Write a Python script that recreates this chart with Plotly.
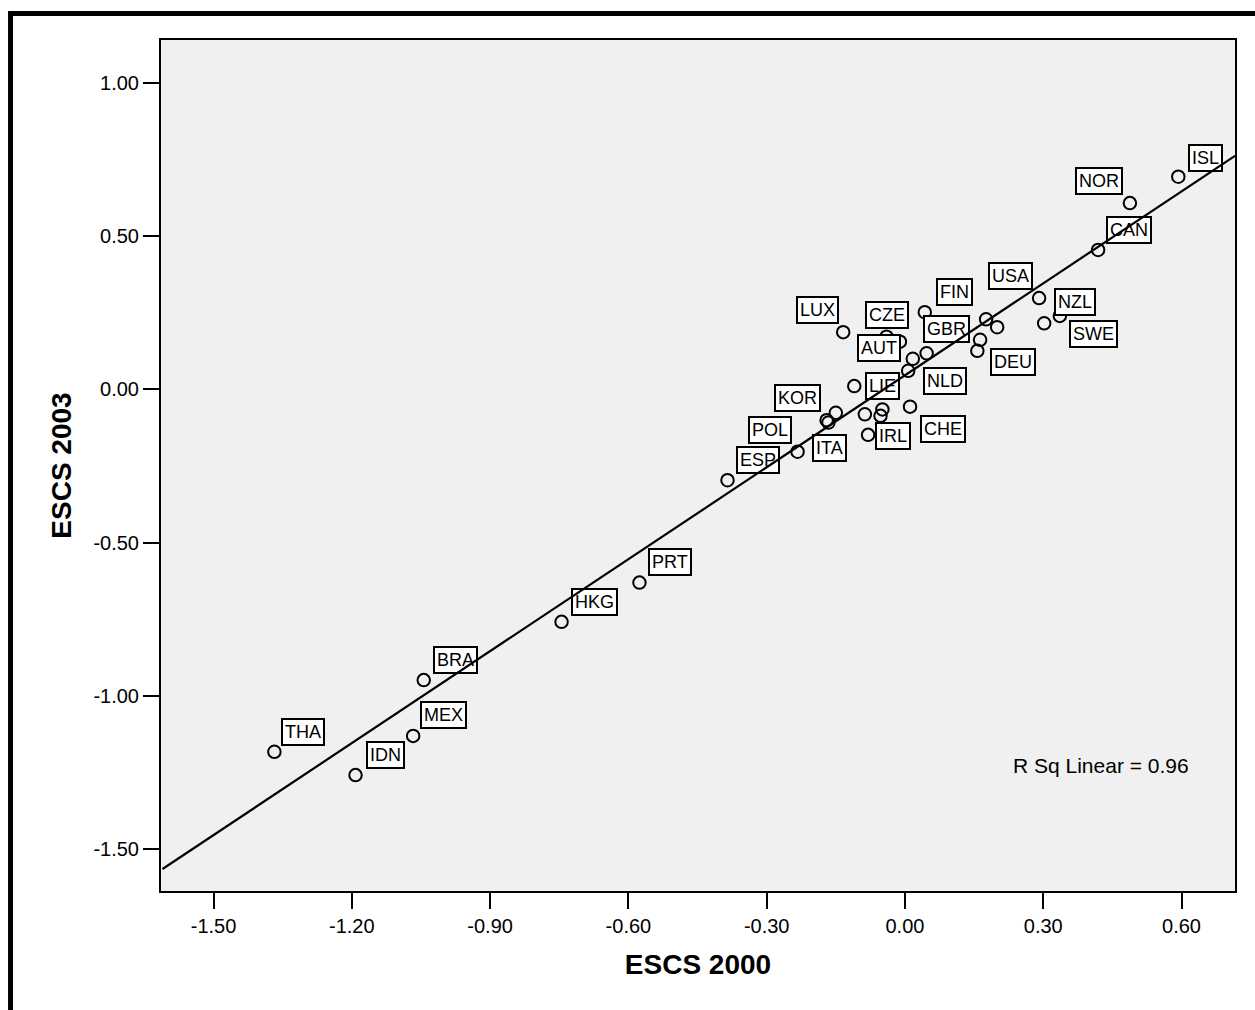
import numpy as np
import plotly.graph_objects as go

# Country codes (blank where the point carries no label)
countries = ["THA", "IDN", "MEX", "BRA", "HKG", "PRT", "ESP", "ITA", "KOR", "POL",
             "", "LUX", "LIE", "", "IRL", "", "", "CZE", "AUT", "CHE",
             "", "NLD", "GBR", "FIN", "", "", "DEU", "", "USA", "NZL",
             "SWE", "CAN", "NOR", "ISL"]

# Mean ESCS per country in PISA 2000 and PISA 2003
escs_2000 = [-1.368, -1.192, -1.067, -1.044, -0.745, -0.576, -0.385, -0.233, -0.170, -0.166,
             -0.150, -0.134, -0.110, -0.087, -0.080, -0.049, -0.053, -0.040, -0.011, 0.011,
             0.007, 0.017, 0.047, 0.043, 0.176, 0.200, 0.163, 0.157, 0.291, 0.302,
             0.336, 0.419, 0.488, 0.593]
escs_2003 = [-1.182, -1.258, -1.130, -0.948, -0.758, -0.630, -0.296, -0.203, -0.100, -0.108,
             -0.076, 0.187, 0.011, -0.081, -0.148, -0.065, -0.086, 0.172, 0.156, -0.056,
             0.061, 0.100, 0.118, 0.252, 0.229, 0.203, 0.162, 0.126, 0.298, 0.216,
             0.240, 0.455, 0.608, 0.694]

r_sq_linear = 0.96

x_ticks = [-1.5, -1.2, -0.9, -0.6, -0.3, 0.0, 0.3, 0.6]
x_tick_labels = ["-1.50", "-1.20", "-0.90", "-0.60", "-0.30", "0.00", "0.30", "0.60"]
y_ticks = [-1.5, -1.0, -0.5, 0.0, 0.5, 1.0]
y_tick_labels = ["-1.50", "-1.00", "-0.50", "0.00", "0.50", "1.00"]

X_RANGE = [-1.614, 0.716]
Y_RANGE = [-1.636, 1.140]

# Label box placement relative to its point, in screen pixels (right, down)
label_offsets = {
    "THA": (29, -20), "IDN": (30, -20.5), "MEX": (30, -20.7), "BRA": (31.5, -20),
    "HKG": (33, -20), "PRT": (31, -21), "ESP": (30, -20.6), "ITA": (32, -4),
    "KOR": (-29.4, -22), "POL": (-58, 7), "LUX": (-26, -22), "LIE": (28.7, 0),
    "IRL": (24.7, 1.2), "CZE": (0.8, -21.7), "AUT": (-20.7, 6.3), "CHE": (32.7, 22.5),
    "NLD": (32, 22.5), "GBR": (20.3, -24), "FIN": (29.5, -20.6), "DEU": (33, 22),
    "USA": (-29, -22), "NZL": (31.3, -21.6), "SWE": (34, 18), "CAN": (31, -19.5),
    "NOR": (-31.3, -22), "ISL": (27, -19),
}

FONT = "Liberation Sans, Arial, sans-serif"

fig = go.Figure()

fig.add_trace(go.Scatter(
    x=escs_2000, y=escs_2003, mode="markers",
    marker=dict(symbol="circle-open", size=12.5, color="black", line=dict(width=2, color="black")),
    hoverinfo="skip", showlegend=False, cliponaxis=False,
))

annotations = []
for code, xv, yv in zip(countries, escs_2000, escs_2003):
    if not code:
        continue
    dx, dy = label_offsets[code]
    annotations.append(dict(
        x=xv, y=yv, xref="x", yref="y", text=code, showarrow=False,
        xshift=dx, yshift=-dy, xanchor="center", yanchor="middle",
        font=dict(family=FONT, size=18, color="black"),
        bgcolor="white", bordercolor="black", borderwidth=2, borderpad=2,
    ))

# Least-squares fit line drawn on top of the label boxes
slope, intercept = np.polyfit(escs_2000, escs_2003, 1)
x0, x1 = X_RANGE
annotations.append(dict(
    x=x1, y=slope * x1 + intercept, ax=x0, ay=slope * x0 + intercept,
    xref="x", yref="y", axref="x", ayref="y", text="", showarrow=True,
    arrowhead=0, arrowwidth=2.2, arrowcolor="black", standoff=0, startstandoff=0,
))

annotations.append(dict(
    x=0.7914, y=0.1469, xref="paper", yref="paper", xanchor="left", yanchor="middle",
    text=f"R Sq Linear = {r_sq_linear:.2f}", showarrow=False,
    font=dict(family=FONT, size=21, color="black"),
))

axis_common = dict(
    showgrid=False, zeroline=False, showline=True, linecolor="black", linewidth=2,
    mirror=True, ticks="outside", ticklen=16, tickwidth=2, tickcolor="black",
    tickfont=dict(family=FONT, size=20, color="black"),
    automargin=False,
)

fig.update_layout(
    width=1255, height=1010,
    margin=dict(l=161, r=20, t=40, b=119),
    paper_bgcolor="white", plot_bgcolor="#f0f0f0",
    xaxis=dict(range=X_RANGE, tickmode="array", tickvals=x_ticks, ticktext=x_tick_labels,
               title=dict(text="<b>ESCS 2000</b>", font=dict(family=FONT, size=28, color="black"), standoff=18),
               **axis_common),
    yaxis=dict(range=Y_RANGE, tickmode="array", tickvals=y_ticks, ticktext=y_tick_labels,
               title=dict(text="<b>ESCS 2003</b>", font=dict(family=FONT, size=28, color="black"), standoff=14),
               **axis_common),
    annotations=annotations,
    shapes=[dict(type="rect", xref="paper", yref="paper",
                 x0=-0.1401, x1=1.3, y0=-0.4, y1=1.0311,
                 line=dict(color="black", width=5), fillcolor="rgba(0,0,0,0)", layer="above")],
)

fig.write_html("out.html")
